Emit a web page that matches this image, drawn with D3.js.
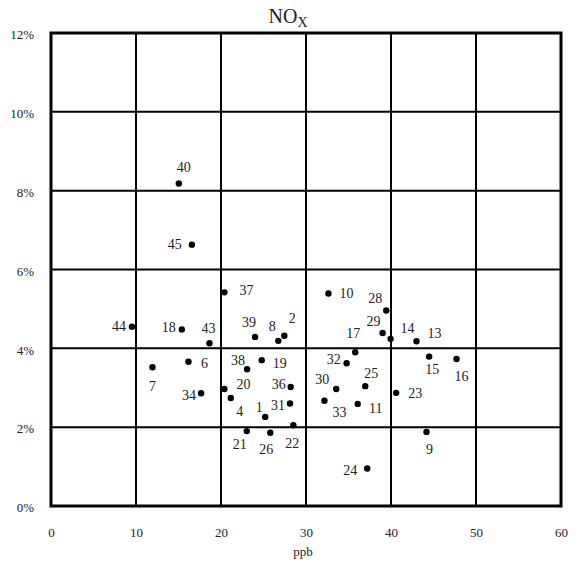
<!DOCTYPE html>
<html>
<head>
<meta charset="utf-8">
<script src="https://cdn.jsdelivr.net/npm/d3@7"></script>
<style>
  body { margin: 0; background: #fff; }
  svg { display: block; }
  text { font-family: "Liberation Serif", "DejaVu Serif", serif; fill: #222; }
</style>
</head>
<body>
<svg id="chart" width="576" height="567"></svg>
<script>
// ---- data ----
const ids = [1, 2, 4, 6, 7, 8, 9, 10, 11, 13, 14, 15, 16, 17, 18, 19, 20, 21, 22, 23, 24, 25, 26, 28, 29, 30, 31, 32, 33, 34, 36, 37, 38, 39, 40, 43, 44, 45];
const ppb = [25.2, 27.45, 21.15, 16.17, 11.94, 26.74, 44.18, 32.64, 36.08, 43.0, 39.95, 44.49, 47.71, 35.79, 15.39, 24.79, 20.40, 23.03, 28.51, 40.61, 37.20, 36.97, 25.80, 39.44, 39.01, 33.56, 28.12, 34.78, 32.17, 17.66, 28.20, 20.40, 23.07, 24.01, 15.04, 18.64, 9.52, 16.57];
const pct = [2.26, 4.32, 2.74, 3.66, 3.52, 4.19, 1.88, 5.39, 2.59, 4.18, 4.24, 3.79, 3.73, 3.90, 4.48, 3.70, 2.97, 1.90, 2.05, 2.87, 0.95, 3.04, 1.86, 4.96, 4.39, 2.97, 2.60, 3.62, 2.67, 2.86, 3.02, 5.42, 3.47, 4.29, 8.18, 4.13, 4.55, 6.63];
const xTicks = [0, 10, 20, 30, 40, 50, 60];
const yTicks = [0, 2, 4, 6, 8, 10, 12];

// ---- label placement (layout only, px offsets of each label from its point) ----
const labelOffset = {
  1: [-6, -9], 2: [8, -17], 4: [9, 14], 6: [16, 2], 7: [0, 19], 8: [-6, -14],
  9: [3, 18], 10: [18, 0], 11: [18, 5], 13: [18, -8], 14: [17, -10], 15: [3, 13],
  16: [5, 18], 17: [-2, -19], 18: [-13, -2], 19: [18, 3], 20: [19, -4], 21: [-7, 13],
  22: [-1, 18], 23: [19, 1], 24: [-17, 2], 25: [6, -13], 26: [-4, 17], 28: [-11, -12],
  29: [-9, -11], 30: [-14, -9], 31: [-12, 2], 32: [-13, -4], 33: [15, 12], 34: [-12, 2],
  36: [-12, -2], 37: [22, -2], 38: [-9, -9], 39: [-6, -14], 40: [5, -16], 43: [-1, -15],
  44: [-13, 0], 45: [-17, 0]
};

const points = ids.map((id, i) => ({ id, x: ppb[i], y: pct[i] }));

const svg = d3.select("#chart");
const mLeft = 51, mRight = 561, mTop = 33, mBottom = 506;

const x = d3.scaleLinear().domain([0, 60]).range([mLeft, mRight]);
const y = d3.scaleLinear().domain([0, 12]).range([mBottom, mTop]);

// grid
const grid = svg.append("g");
grid.selectAll("line.v").data(xTicks.slice(1, -1)).join("line")
  .attr("class", "v")
  .attr("x1", d => x(d)).attr("x2", d => x(d))
  .attr("y1", mTop).attr("y2", mBottom)
  .attr("stroke", "#000").attr("stroke-width", 2);
grid.selectAll("line.h").data(yTicks.slice(1, -1)).join("line")
  .attr("class", "h")
  .attr("x1", mLeft).attr("x2", mRight)
  .attr("y1", d => y(d)).attr("y2", d => y(d))
  .attr("stroke", "#000").attr("stroke-width", 2);
grid.append("rect")
  .attr("x", mLeft).attr("y", mTop)
  .attr("width", mRight - mLeft).attr("height", mBottom - mTop)
  .attr("fill", "none").attr("stroke", "#000").attr("stroke-width", 3);

// axes (labels only)
const xAxis = svg.append("g")
  .attr("transform", `translate(0,${mBottom})`)
  .call(d3.axisBottom(x).tickValues(xTicks).tickSize(0).tickPadding(22).tickFormat(d3.format("d")));
xAxis.select(".domain").remove();
xAxis.selectAll("text").style("font-size", "13px").style("font-family", '"Liberation Serif", serif').attr("fill", "#333");

const yAxis = svg.append("g")
  .attr("transform", `translate(${mLeft},1.5)`)
  .call(d3.axisLeft(y).tickValues(yTicks).tickSize(0).tickPadding(17).tickFormat(d => d + "%"));
yAxis.select(".domain").remove();
yAxis.selectAll("text").style("font-size", "13px").style("font-family", '"Liberation Serif", serif').attr("fill", "#333");

// axis title
svg.append("text")
  .attr("x", (mLeft + mRight) / 2 - 3).attr("y", 556)
  .attr("text-anchor", "middle").style("font-size", "13px")
  .text("ppb");

// chart title
const title = svg.append("text")
  .attr("x", 288).attr("y", 23)
  .attr("text-anchor", "middle").style("font-size", "20px");
title.append("tspan").text("NO");
title.append("tspan").attr("dy", 4).style("font-size", "14px").text("X");

// points
svg.append("g").selectAll("circle").data(points).join("circle")
  .attr("cx", d => x(d.x)).attr("cy", d => y(d.y))
  .attr("r", 3.2).attr("fill", "#000");

// point labels
svg.append("g").selectAll("text").data(points).join("text")
  .attr("x", d => x(d.x) + labelOffset[d.id][0])
  .attr("y", d => y(d.y) + labelOffset[d.id][1])
  .attr("text-anchor", "middle")
  .attr("dominant-baseline", "central")
  .style("font-size", "14px")
  .attr("fill", "#333")
  .text(d => d.id);
</script>
</body>
</html>
